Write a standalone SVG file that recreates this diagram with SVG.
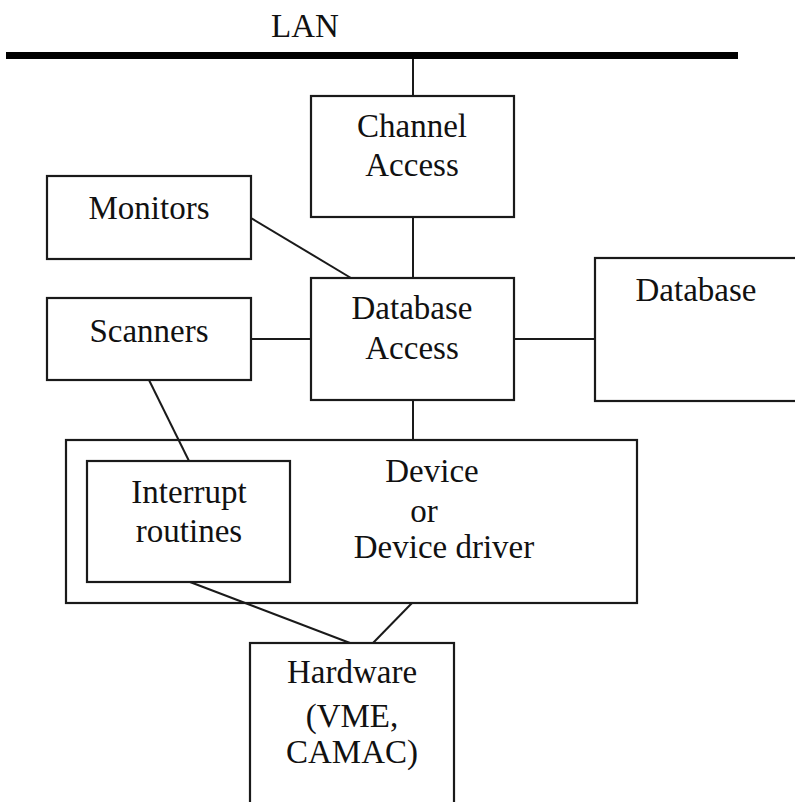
<svg xmlns="http://www.w3.org/2000/svg" width="795" height="802" viewBox="0 0 795 802">
<style>
.box{fill:none;stroke:#1a1a1a;stroke-width:2.2}
.ln{stroke:#1a1a1a;stroke-width:2;fill:none}
text{font-family:"Liberation Serif","Times New Roman",serif;font-size:33px;fill:#111;text-anchor:middle}
</style>
<rect width="795" height="802" fill="#fff"/>
<g id="lan">
<line x1="6" y1="55.5" x2="738" y2="55.5" stroke="#000" stroke-width="7"/>
<text x="305" y="37">LAN</text>
</g>
<g id="connectors">
<line class="ln" x1="413" y1="59" x2="413" y2="96"/>
<line class="ln" x1="413" y1="217" x2="413" y2="278"/>
<line class="ln" x1="251" y1="218" x2="351" y2="278"/>
<line class="ln" x1="251" y1="339" x2="311" y2="339"/>
<line class="ln" x1="514" y1="339" x2="595" y2="339"/>
<line class="ln" x1="413" y1="400" x2="413" y2="440"/>
<line class="ln" x1="149" y1="380" x2="189" y2="461"/>
<line class="ln" x1="190" y1="582" x2="350" y2="643"/>
<line class="ln" x1="412" y1="603" x2="373" y2="643"/>
</g>
<g id="channel-access">
<rect class="box" x="311" y="96" width="203" height="121"/>
<text x="412" y="137">Channel</text>
<text x="412" y="176">Access</text>
</g>
<g id="monitors">
<rect class="box" x="47" y="176" width="204" height="83"/>
<text x="149" y="219">Monitors</text>
</g>
<g id="scanners">
<rect class="box" x="47" y="298" width="204" height="82"/>
<text x="149" y="342">Scanners</text>
</g>
<g id="database-access">
<rect class="box" x="311" y="278" width="203" height="122"/>
<text x="412" y="319">Database</text>
<text x="412" y="359">Access</text>
</g>
<g id="database">
<rect class="box" x="595" y="258" width="210" height="143"/>
<text x="696" y="301">Database</text>
</g>
<g id="device">
<rect class="box" x="66" y="440" width="571" height="163"/>
<text x="432" y="482">Device</text>
<text x="424" y="522">or</text>
<text x="444" y="558">Device driver</text>
</g>
<g id="interrupt-routines">
<rect class="box" x="87" y="461" width="203" height="121"/>
<text x="189" y="503">Interrupt</text>
<text x="189" y="542">routines</text>
</g>
<g id="hardware">
<rect class="box" x="250" y="643" width="204" height="170"/>
<text x="352" y="683">Hardware</text>
<text x="352" y="727">(VME,</text>
<text x="352" y="763">CAMAC)</text>
</g>
</svg>
